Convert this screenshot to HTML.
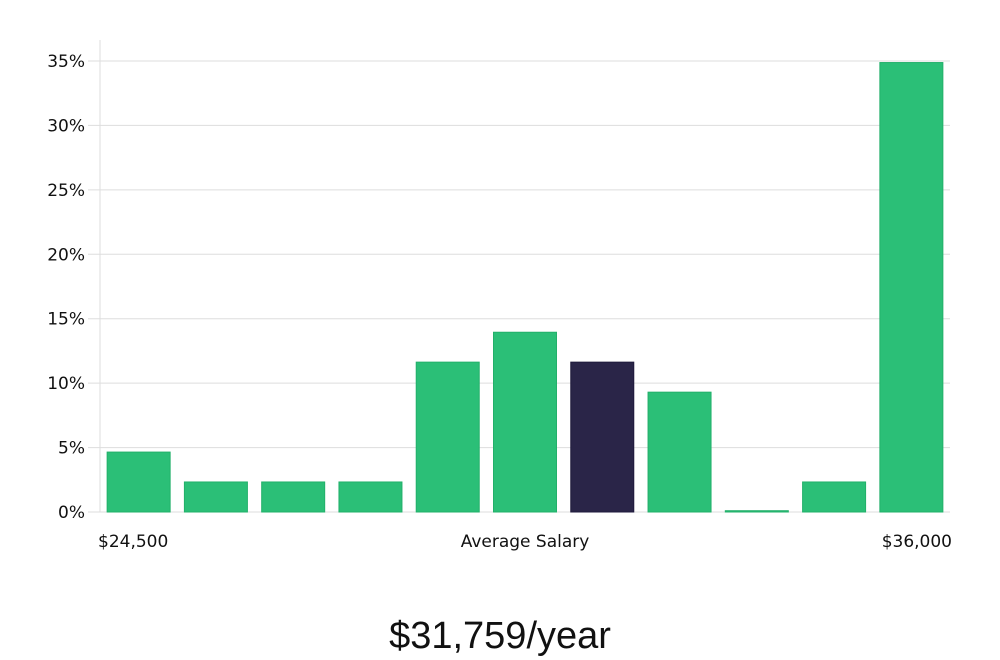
<!DOCTYPE html>
<html><head><meta charset="utf-8"><style>
html,body{margin:0;padding:0;background:#fff;width:1000px;height:660px;overflow:hidden}
svg text{font-family:"DejaVu Sans","Liberation Sans",sans-serif}
</style></head><body>
<svg id="chart" width="1000" height="660" xmlns="http://www.w3.org/2000/svg">
<g id="grid"></g>
<g id="yticks"></g>
<line x1="100" y1="40" x2="100" y2="512" stroke="#ddd" stroke-width="1"/>
<g id="bars"></g>
<text x="98" y="547" font-size="17" fill="#111">$24,500</text>
<text x="525" y="547" font-size="17" fill="#111" text-anchor="middle">Average Salary</text>
<text x="952" y="547" font-size="17" fill="#111" text-anchor="end">$36,000</text>
<text x="500" y="648" font-size="38" fill="#111" text-anchor="middle" style="font-family:'Liberation Sans',sans-serif;font-weight:300">$31,759/year</text>
</svg>
<script>
const categories = ["b1","b2","b3","b4","b5","b6","b7","b8","b9","b10","b11"];
const values = [4.65,2.33,2.33,2.33,11.63,13.95,11.63,9.30,0.1,2.33,34.88];
const highlight = [false,false,false,false,false,false,true,false,false,false,false];
const yTicks = [0,5,10,15,20,25,30,35];
const yTickLabels = ["0%","5%","10%","15%","20%","25%","30%","35%"];
const NS="http://www.w3.org/2000/svg";
const x0=100,x1=950,yBase=512,yTop=61,yMax=35;
function y(v){return yBase-(v/yMax)*(yBase-yTop);}
const step=(x1-x0)/categories.length, bw=63;
function xb(i){return x0+i*step+(step-bw)/2;}
const grid=document.getElementById('grid'), yt=document.getElementById('yticks'), bars=document.getElementById('bars');
yTicks.forEach((t,i)=>{
  const l=document.createElementNS(NS,'line');
  
  
  l.setAttribute('x1',88);l.setAttribute('x2',950);l.setAttribute('y1',y(t));l.setAttribute('y2',y(t));
  l.setAttribute('stroke','#ddd');grid.appendChild(l);
  const tx=document.createElementNS(NS,'text');
  
  
  tx.setAttribute('x',85);tx.setAttribute('y',y(t)+6);tx.setAttribute('text-anchor','end');
  tx.setAttribute('font-size','17');tx.setAttribute('fill','#111');tx.textContent=yTickLabels[i];yt.appendChild(tx);
});
values.forEach((v,i)=>{
  const r=document.createElementNS(NS,'rect');
  
  
  r.setAttribute('x',xb(i));r.setAttribute('width',bw);
  r.setAttribute('y',y(v));r.setAttribute('height',Math.max(1,yBase-y(v)));
  r.setAttribute('fill',highlight[i]?'#2a2548':'#2bbf77');
  r.setAttribute('stroke',highlight[i]?'#1f1a3c':'#22b06a');r.setAttribute('stroke-width','1');
  bars.appendChild(r);
});
</script>
</body></html>
